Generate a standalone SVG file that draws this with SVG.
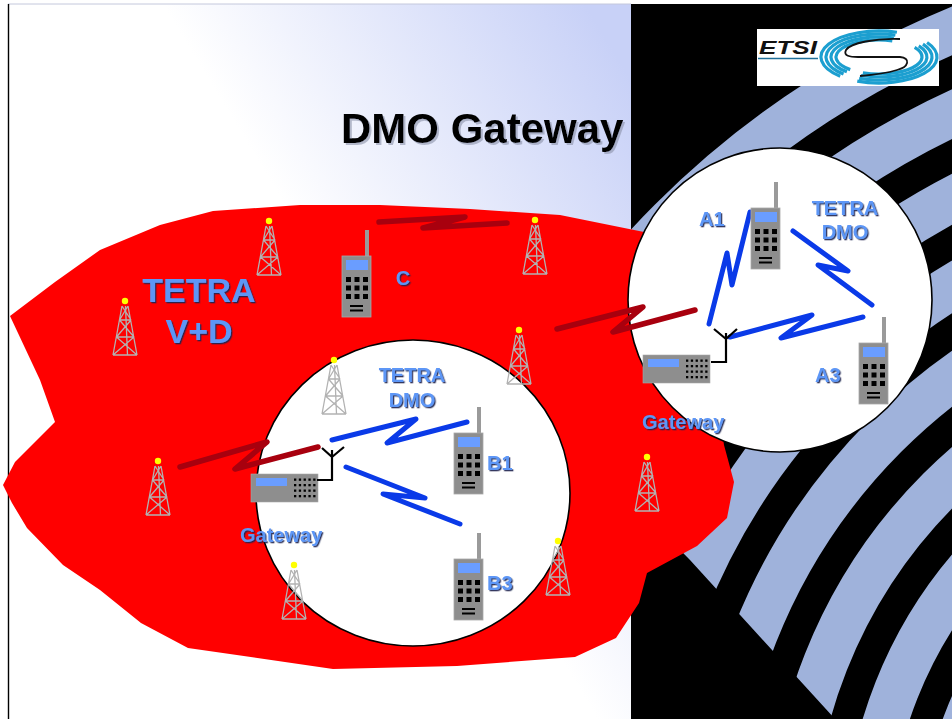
<svg xmlns="http://www.w3.org/2000/svg" width="952" height="719" viewBox="0 0 952 719">
  <defs>
    <style>
      .lbl { font-family: "Liberation Sans", Arial, Helvetica, sans-serif; font-weight: bold; fill: #5d96f6; filter: url(#lblShadow); }
      .title { font-family: "Liberation Sans", Arial, Helvetica, sans-serif; font-weight: bold; fill: #000; filter: url(#titleShadow); }
      .blue-link { fill: none; stroke: #0a3ae8; stroke-width: 5; stroke-linecap: round; stroke-linejoin: round; }
      .red-link { fill: none; stroke: #a8000e; stroke-width: 5.5; stroke-linecap: round; stroke-linejoin: round; }
      .zone { fill: #ffffff; stroke: #000; stroke-width: 1.6; }
      .aerial { fill: none; stroke: #000; stroke-width: 2.2; }
      .ring { fill: none; stroke: #1c9fd0; stroke-width: 3.2; }
    </style>
    <filter id="lblShadow" x="-10%" y="-10%" width="130%" height="140%">
      <feDropShadow dx="1.3" dy="1.3" stdDeviation="0.3" flood-color="#1a2250" flood-opacity="0.9"/>
    </filter>
    <filter id="titleShadow" x="-5%" y="-10%" width="115%" height="140%">
      <feDropShadow dx="2" dy="2" stdDeviation="0.6" flood-color="#8a90a8" flood-opacity="0.6"/>
    </filter>
    <linearGradient id="panelFade" gradientUnits="userSpaceOnUse" x1="220" y1="330" x2="631" y2="80">
      <stop offset="0" stop-color="#ffffff"/>
      <stop offset="0.25" stop-color="#ffffff"/>
      <stop offset="1" stop-color="#c8d1f7"/>
    </linearGradient>
    <clipPath id="stripeClip">
      <polygon points="631,4 952,4 952,719 835,719 690,560 631,500"/>
    </clipPath>

    <!-- lattice radio mast, beacon at origin -->
    <g id="tower">
      <path d="M-3,5 L-12,54 M3,5 L12,54 M0.5,5 L2.5,54 M-12,54 L12,54 M-5.5,19 L6,19 M-8.5,36 L9,36 M-3,5 L6,19 M3,5 L-5.5,19 M-5.5,19 L9,36 M6,19 L-8.5,36 M-8.5,36 L12,54 M9,36 L-12,54" fill="none" stroke="#b2b2b2" stroke-width="1.3"/>
      <circle r="3.2" fill="#ffff00"/>
    </g>

    <!-- hand portable radio, body top-left at origin -->
    <g id="handset">
      <rect x="23" y="-26" width="4" height="27" fill="#9a9a9a"/>
      <rect x="0" y="0" width="29" height="61" fill="#8e8e8e" stroke="#a8a8a8" stroke-width="0.8"/>
      <rect x="4" y="4" width="22" height="10" fill="#6a9dff"/>
      <g fill="#000">
        <rect x="4" y="21" width="5" height="5"/><rect x="12.5" y="21" width="5" height="5"/><rect x="21" y="21" width="5" height="5"/>
        <rect x="4" y="29.5" width="5" height="5"/><rect x="12.5" y="29.5" width="5" height="5"/><rect x="21" y="29.5" width="5" height="5"/>
        <rect x="4" y="38" width="5" height="5"/><rect x="12.5" y="38" width="5" height="5"/><rect x="21" y="38" width="5" height="5"/>
        <rect x="8" y="49" width="13" height="2"/><rect x="8" y="53.5" width="13" height="2"/>
      </g>
    </g>

    <!-- gateway base unit, top-left at origin -->
    <g id="base-unit">
      <rect x="0" y="0" width="67" height="28" fill="#8e8e8e" stroke="#a8a8a8" stroke-width="0.6"/>
      <rect x="5" y="4" width="31" height="8" fill="#6a9dff"/>
      <g fill="#000">
        <rect x="43" y="4.5" width="2.3" height="2.3"/><rect x="47.8" y="4.5" width="2.3" height="2.3"/><rect x="52.6" y="4.5" width="2.3" height="2.3"/><rect x="57.4" y="4.5" width="2.3" height="2.3"/><rect x="62.2" y="4.5" width="2.3" height="2.3"/>
        <rect x="43" y="10" width="2.3" height="2.3"/><rect x="47.8" y="10" width="2.3" height="2.3"/><rect x="52.6" y="10" width="2.3" height="2.3"/><rect x="57.4" y="10" width="2.3" height="2.3"/><rect x="62.2" y="10" width="2.3" height="2.3"/>
        <rect x="43" y="15.5" width="2.3" height="2.3"/><rect x="47.8" y="15.5" width="2.3" height="2.3"/><rect x="52.6" y="15.5" width="2.3" height="2.3"/><rect x="57.4" y="15.5" width="2.3" height="2.3"/><rect x="62.2" y="15.5" width="2.3" height="2.3"/>
        <rect x="43" y="21" width="2.3" height="2.3"/><rect x="47.8" y="21" width="2.3" height="2.3"/><rect x="52.6" y="21" width="2.3" height="2.3"/><rect x="57.4" y="21" width="2.3" height="2.3"/><rect x="62.2" y="21" width="2.3" height="2.3"/>
      </g>
    </g>
  </defs>

  <!-- slide background -->
  <rect x="0" y="0" width="952" height="719" fill="#ffffff"/>
  <rect x="8" y="4" width="623" height="715" fill="url(#panelFade)"/>
  <line x1="8" y1="4" x2="631" y2="4" stroke="#c4c8dc" stroke-width="1"/>
  <line x1="8.5" y1="4" x2="8.5" y2="719" stroke="#000" stroke-width="1.4"/>

  <!-- dark side panel with swept arcs -->
  <g id="side-panel">
    <rect x="631" y="4" width="321" height="715" fill="#000"/>
    <g clip-path="url(#stripeClip)" fill="none" stroke="#9fb2db" stroke-width="45">
      <circle cx="1300" cy="850" r="890"/>
      <circle cx="1300" cy="850" r="814"/>
      <circle cx="1300" cy="850" r="738"/>
      <circle cx="1300" cy="850" r="662"/>
      <circle cx="1300" cy="850" r="586"/>
      <circle cx="1300" cy="850" r="510"/>
      <circle cx="1300" cy="850" r="434"/>
      <circle cx="1300" cy="850" r="358"/>
      <circle cx="1300" cy="850" r="282"/>
    </g>
  </g>

  <!-- ETSI logo -->
  <g id="etsi-logo">
    <rect x="757" y="29" width="182" height="57" fill="#ffffff"/>
    <text x="759" y="54" font-family="Liberation Sans, Arial, sans-serif" font-weight="bold" font-style="italic" font-size="19" textLength="58" lengthAdjust="spacingAndGlyphs" fill="#111">ETSI</text>
    <line x1="758" y1="58.5" x2="818" y2="58.5" stroke="#1f6f9a" stroke-width="1.4"/>
    <!-- left-hand rings: from the top, round the left side, to the lower left -->
    <path class="ring" d="M896.92,32.27 A58,26 0 0 0 840.19,76.32"/>
    <path class="ring" d="M895.38,35.13 A53,23 0 0 0 843.54,74.09"/>
    <path class="ring" d="M893.83,37.98 A48,20 0 0 0 846.88,71.86"/>
    <path class="ring" d="M892.29,40.83 A43,17 0 0 0 850.23,69.63"/>
    <!-- right-hand rings: from the bottom, round the right side, to the upper right -->
    <path class="ring" d="M857.27,81.11 A58,26 0 0 0 927.08,42.46"/>
    <path class="ring" d="M859.15,78.33 A53,23 0 0 0 922.94,44.14"/>
    <path class="ring" d="M861.02,75.54 A48,20 0 0 0 918.79,45.82"/>
    <path class="ring" d="M862.89,72.76 A43,17 0 0 0 914.65,47.49"/>
    <path d="M900,39 C876,38 850,43 846,50 C843,56 850,57 858,57 L900,57 C911,58 909,67 897,70 C887,73 872,75 860,76" fill="none" stroke="#111" stroke-width="1.8"/>
  </g>

  <!-- TETRA V+D coverage area -->
  <polygon id="vd-coverage" fill="#ff0000" points="10,316 55,282 100,250 160,225 213,211 300,205 380,205 470,209 560,215 644,232 705,320 724,445 734,482 727,518 697,546 647,573 639,603 616,638 575,657 457,666 333,669 188,648 141,623 100,590 63,565 27,528 12,503 3,485 15,462 55,422 40,380"/>

  <!-- DMO zones -->
  <ellipse id="zone-b" class="zone" cx="413" cy="493" rx="157" ry="153"/>
  <circle id="zone-a" class="zone" cx="780" cy="300" r="152"/>

  <!-- base station masts -->
  <g id="masts">
    <use href="#tower" x="269" y="221"/>
    <use href="#tower" x="125" y="301"/>
    <use href="#tower" x="535" y="220"/>
    <use href="#tower" x="519" y="330"/>
    <use href="#tower" x="334" y="360"/>
    <use href="#tower" x="158" y="461"/>
    <use href="#tower" x="294" y="565"/>
    <use href="#tower" x="558" y="541"/>
    <use href="#tower" x="647" y="457"/>
  </g>

  <!-- radio links -->
  <g id="links">
    <path class="red-link" d="M379,222 L465,217 L423,228 L507,223"/>
    <path class="red-link" d="M557,329 L643,307 L613,332 L695,310"/>
    <path class="red-link" d="M180,467 L267,442 L235,469 L318,447"/>
    <path class="blue-link" d="M332,440 L416,419 L387,443 L467,422"/>
    <path class="blue-link" d="M346,467 L425,498 L383,494 L460,524"/>
    <path class="blue-link" d="M709,324 L727,253 L732,285 L750,212"/>
    <path class="blue-link" d="M793,231 L848,271 L818,265 L872,305"/>
    <path class="blue-link" d="M730,337 L812,315 L781,338 L863,317"/>
  </g>

  <!-- gateways -->
  <g id="gateway-b">
    <use href="#base-unit" x="251" y="474"/>
    <path class="aerial" d="M317,480 H332 V450 M332,457 L322,448 M332,457 L344,447"/>
  </g>
  <g id="gateway-a">
    <use href="#base-unit" x="643" y="355"/>
    <path class="aerial" d="M711,362 H726 V333 M726,339 L714,329 M726,339 L737,329"/>
  </g>

  <!-- terminals -->
  <g id="terminal-c"><use href="#handset" x="342" y="256"/></g>
  <g id="terminal-b1"><use href="#handset" x="454" y="433"/></g>
  <g id="terminal-b3"><use href="#handset" x="454" y="559"/></g>
  <g id="terminal-a1"><use href="#handset" x="751" y="208"/></g>
  <g id="terminal-a3"><use href="#handset" x="859" y="343"/></g>

  <!-- labels -->
  <text class="title" x="341" y="143" font-size="42">DMO Gateway</text>
  <g id="labels" font-size="20">
    <text class="lbl" x="199" y="302" font-size="34" text-anchor="middle">TETRA</text>
    <text class="lbl" x="199" y="343" font-size="34" text-anchor="middle">V+D</text>
    <text class="lbl" x="403" y="285" text-anchor="middle">C</text>
    <text class="lbl" x="412" y="382" text-anchor="middle">TETRA</text>
    <text class="lbl" x="412" y="407" text-anchor="middle">DMO</text>
    <text class="lbl" x="487" y="470">B1</text>
    <text class="lbl" x="240" y="542">Gateway</text>
    <text class="lbl" x="487" y="590">B3</text>
    <text class="lbl" x="699" y="226">A1</text>
    <text class="lbl" x="845" y="215" text-anchor="middle">TETRA</text>
    <text class="lbl" x="845" y="239" text-anchor="middle">DMO</text>
    <text class="lbl" x="815" y="382">A3</text>
    <text class="lbl" x="642" y="429">Gateway</text>
  </g>
</svg>
